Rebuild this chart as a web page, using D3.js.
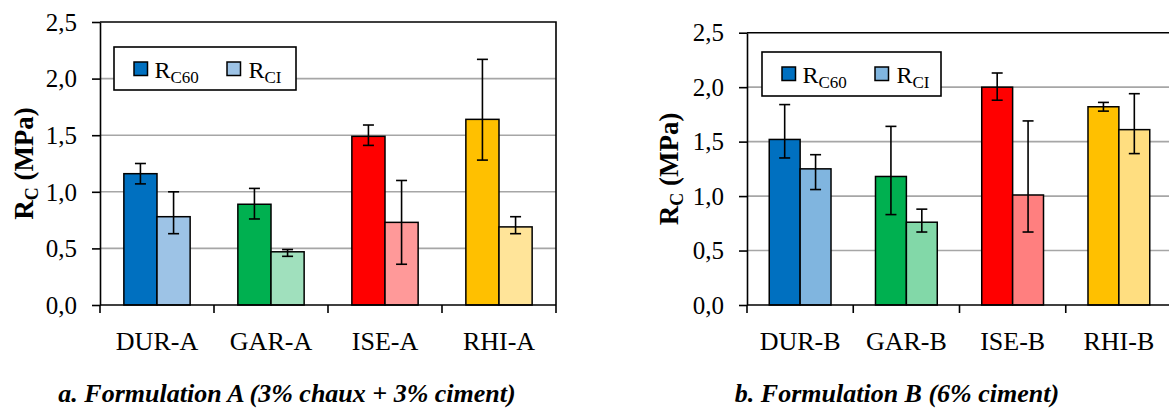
<!DOCTYPE html>
<html>
<head>
<meta charset="utf-8">
<script src="https://cdn.jsdelivr.net/npm/d3@7"></script>
<style>
  html, body { margin: 0; padding: 0; background: #fff; }
  svg { display: block; }
</style>
</head>
<body>
<svg id="chart"></svg>
<script>
// values (MPa)
const catsA = ['DUR-A', 'GAR-A', 'ISE-A', 'RHI-A'];
const catsB = ['DUR-B', 'GAR-B', 'ISE-B', 'RHI-B'];
const seriesKeys = ['C60', 'CI'];

const rc60A = [1.16, 0.89, 1.49, 1.64];
const rc60A_lo = [1.07, 0.76, 1.41, 1.28];
const rc60A_hi = [1.25, 1.03, 1.59, 2.17];
const rciA = [0.78, 0.47, 0.73, 0.69];
const rciA_lo = [0.63, 0.43, 0.36, 0.63];
const rciA_hi = [1.00, 0.49, 1.10, 0.78];

const rc60B = [1.52, 1.18, 2.00, 1.82];
const rc60B_lo = [1.35, 0.83, 1.88, 1.78];
const rc60B_hi = [1.84, 1.64, 2.13, 1.86];
const rciB = [1.25, 0.76, 1.01, 1.61];
const rciB_lo = [1.06, 0.67, 0.67, 1.39];
const rciB_hi = [1.38, 0.88, 1.69, 1.94];

const yTicks = [0, 0.5, 1.0, 1.5, 2.0, 2.5];
const captionA = 'a. Formulation A (3% chaux + 3% ciment)';
const captionB = 'b. Formulation B (6% ciment)';

// colours per site: dark = R_C60, light = R_CI (panel B uses a bit stronger light tints)
const darkCol = ['#0070C0', '#00B050', '#FF0000', '#FFC000'];
const lightColA = ['#9DC3E6', '#A0E0BD', '#FF9999', '#FFE499'];
const lightColB = ['#80B5DF', '#82D8A8', '#FF7F7F', '#FFDE80'];

const W = 1169, H = 410;
const FONT = '"Liberation Serif", "Times New Roman", serif';

const svg = d3.select('#chart').attr('width', W).attr('height', H);

function drawPanel(p) {
  const g = svg.append('g');

  const x = d3.scaleBand().domain(p.cats).range([p.left, p.right]).padding(0);
  const xs = d3.scaleBand().domain(seriesKeys).range([0, x.bandwidth()])
    .paddingInner(0).paddingOuter(0.72);
  const y = d3.scaleLinear().domain([0, 2.5]).range([p.bottom, p.top]);

  const rows = p.cats.map((c, i) => ({
    cat: c, i,
    vals: [
      { key: 'C60', v: p.c60[i], lo: p.c60lo[i], hi: p.c60hi[i], col: darkCol[i] },
      { key: 'CI', v: p.ci[i], lo: p.cilo[i], hi: p.cihi[i], col: p.light[i] }
    ]
  }));

  // gridlines
  g.selectAll('.grid').data(yTicks.filter(t => t > 0 && t < 2.5)).enter()
    .append('line')
    .attr('x1', p.left).attr('x2', p.right)
    .attr('y1', d => y(d)).attr('y2', d => y(d))
    .attr('stroke', '#A6A6A6').attr('stroke-width', 1.6);

  // bars
  const grp = g.selectAll('.grp').data(rows).enter().append('g')
    .attr('transform', d => `translate(${x(d.cat)},0)`);

  grp.selectAll('rect').data(d => d.vals).enter().append('rect')
    .attr('x', d => xs(d.key))
    .attr('width', xs.bandwidth())
    .attr('y', d => y(d.v))
    .attr('height', d => y(0) - y(d.v))
    .attr('fill', d => d.col)
    .attr('stroke', '#000').attr('stroke-width', 1.5);

  // error bars
  const eb = grp.selectAll('.eb').data(d => d.vals).enter().append('g')
    .attr('stroke', '#000').attr('stroke-width', 1.6);
  const cx = d => xs(d.key) + xs.bandwidth() / 2;
  eb.append('line').attr('x1', cx).attr('x2', cx)
    .attr('y1', d => y(d.hi)).attr('y2', d => y(d.lo));
  eb.append('line').attr('x1', d => cx(d) - 5.5).attr('x2', d => cx(d) + 5.5)
    .attr('y1', d => y(d.hi)).attr('y2', d => y(d.hi));
  eb.append('line').attr('x1', d => cx(d) - 5.5).attr('x2', d => cx(d) + 5.5)
    .attr('y1', d => y(d.lo)).attr('y2', d => y(d.lo));

  // plot frame (top + right)
  g.append('path')
    .attr('d', `M${p.left},${y(2.5)}H${p.right}V${y(0)}`)
    .attr('fill', 'none').attr('stroke', '#000').attr('stroke-width', 1.6);

  // y axis
  const yAxis = g.append('g')
    .attr('transform', `translate(${p.left},0)`)
    .call(d3.axisLeft(y).tickValues(yTicks).tickSize(8).tickSizeOuter(0).tickPadding(15)
      .tickFormat(d => d3.format('.1f')(d).replace('.', ',')));
  yAxis.attr('font-family', FONT);
  yAxis.select('.domain').attr('stroke', '#000').attr('stroke-width', 1.6);
  yAxis.selectAll('.tick line').attr('stroke', '#000').attr('stroke-width', 1.6);
  yAxis.selectAll('.tick text')
    .style('font-family', FONT).attr('font-size', 25).attr('fill', '#000').attr('dy', '0.33em');

  // x axis: labels centred, ticks at category boundaries
  const xAxis = g.append('g')
    .attr('transform', `translate(0,${p.bottom})`)
    .call(d3.axisBottom(x).tickSize(0).tickPadding(0));
  xAxis.attr('font-family', FONT);
  xAxis.select('.domain').remove();
  xAxis.selectAll('.tick text')
    .style('font-family', FONT).attr('font-size', 26).attr('fill', '#000')
    .attr('y', 45).attr('dy', 0);
  g.append('line')
    .attr('x1', p.left).attr('x2', p.right)
    .attr('y1', p.bottom).attr('y2', p.bottom)
    .attr('stroke', '#000').attr('stroke-width', 1.6);
  const bounds = p.cats.map(c => x(c)).concat([x.range()[1]]);
  g.selectAll('.xt').data(bounds).enter().append('line')
    .attr('x1', d => d).attr('x2', d => d)
    .attr('y1', p.bottom).attr('y2', p.bottom + 8)
    .attr('stroke', '#000').attr('stroke-width', 1.6);

  // y title
  const yt = g.append('text')
    .attr('transform', `translate(${p.titleX},${(p.top + p.bottom) / 2}) rotate(-90)`)
    .attr('text-anchor', 'middle')
    .style('font-family', FONT).attr('font-weight', 'bold').attr('font-size', 27)
    .attr('fill', '#000');
  yt.append('tspan').text('R');
  yt.append('tspan').attr('font-size', 18).attr('dy', 5).text('C');
  yt.append('tspan').attr('dy', -5).text(' (MPa)');

  // legend
  const L = p.legend;
  const lg = g.append('g').attr('transform', `translate(${L.x},${L.y})`);
  lg.append('rect').attr('width', L.w).attr('height', L.h)
    .attr('fill', '#fff').attr('stroke', '#000').attr('stroke-width', 1.6);
  const items = [
    { sub: 'C60', col: darkCol[0], sx: 20, tx: 40.5 },
    { sub: 'CI', col: p.light[0], sx: 113, tx: 134.5 }
  ];
  items.forEach(it => {
    lg.append('rect').attr('x', it.sx).attr('y', 15).attr('width', 13.5).attr('height', 13.5)
      .attr('fill', it.col).attr('stroke', '#000').attr('stroke-width', 1.5);
    const t = lg.append('text').attr('x', it.tx).attr('y', 30.5)
      .style('font-family', FONT).attr('font-size', 24).attr('fill', '#000');
    t.append('tspan').text('R');
    t.append('tspan').attr('font-size', 17).attr('dy', 5.5).text(it.sub);
  });

  // caption
  svg.append('text')
    .attr('x', p.capX).attr('y', 402)
    .attr('text-anchor', 'middle')
    .style('font-family', FONT).attr('font-weight', 'bold').attr('font-style', 'italic')
    .attr('font-size', 26).attr('fill', '#000')
    .text(p.caption);
}

drawPanel({
  cats: catsA, c60: rc60A, c60lo: rc60A_lo, c60hi: rc60A_hi,
  ci: rciA, cilo: rciA_lo, cihi: rciA_hi, light: lightColA,
  left: 100, right: 556, top: 22, bottom: 305,
  titleX: 33, legend: { x: 114, y: 47, w: 182, h: 43 },
  caption: captionA, capX: 287
});

drawPanel({
  cats: catsB, c60: rc60B, c60lo: rc60B_lo, c60hi: rc60B_hi,
  ci: rciB, cilo: rciB_lo, cihi: rciB_hi, light: lightColB,
  left: 747, right: 1172, top: 32.7, bottom: 305,
  titleX: 678, legend: { x: 762, y: 52, w: 179, h: 44 },
  caption: captionB, capX: 897
});
</script>
</body>
</html>
